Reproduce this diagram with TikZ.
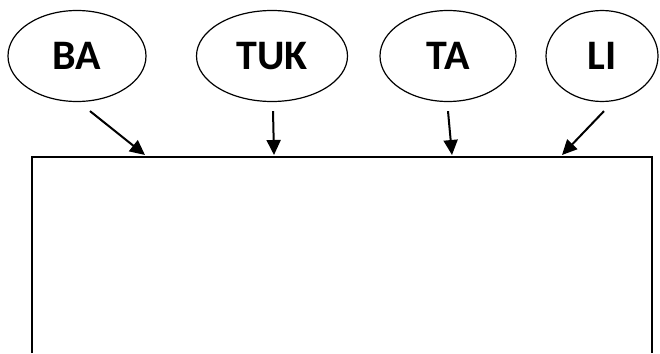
\documentclass[tikz,border=0pt]{standalone}
\usepackage{fontspec}
\setmainfont{Carlito}
\usetikzlibrary{shapes.geometric,arrows.meta}

\tikzset{
  oval/.style={draw, ellipse, line width=1.2pt, inner sep=0pt,
    minimum height=91pt, font=\fontsize{42}{44}\selectfont\bfseries},
  arr/.style={line width=2pt, -{Triangle[length=15pt,width=14pt]}}
}

\begin{document}
\begin{tikzpicture}[x=1pt, y=-1pt]
\useasboundingbox (0,0) rectangle (660,353);

%% ovales
\node[oval, minimum width=138pt] (ba) at (77,56) {BA};
\node[oval, minimum width=151pt] (tuk) at (272,56) {TUK};
\node[oval, minimum width=136pt] (ta) at (448,56) {TA};
\node[oval, minimum width=112pt] (li) at (602,56) {LI};

%% boite
\draw[line width=2pt] (32,353) |- (652,157) -- (652,353);

%% points d'arrivee
\coordinate (ba-in) at (145,155);
\coordinate (tuk-in) at (274,155);
\coordinate (ta-in) at (452,155);
\coordinate (li-in) at (562,155);

%% fleches
\draw[arr] ([shift={(13,9)}]ba.south) -- (ba-in);
\draw[arr] ([shift={(1,9)}]tuk.south) -- (tuk-in);
\draw[arr] ([shift={(0,9)}]ta.south) -- (ta-in);
\draw[arr] ([shift={(2,9)}]li.south) -- (li-in);

\end{tikzpicture}
\end{document}
